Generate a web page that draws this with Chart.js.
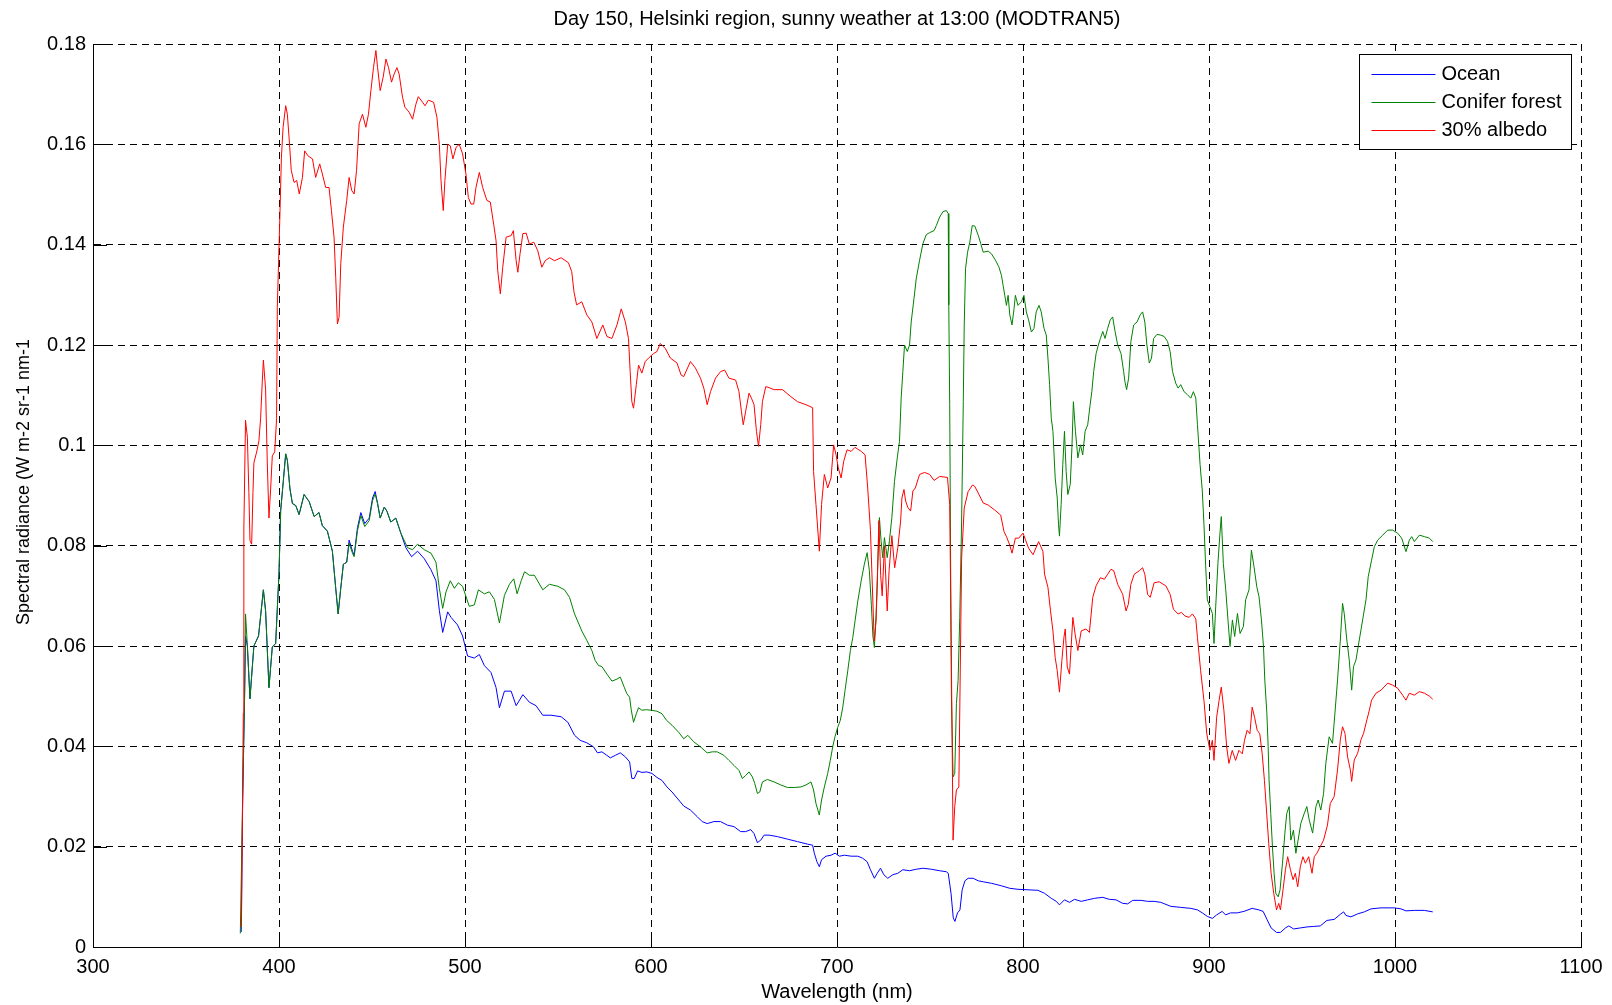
<!DOCTYPE html>
<html>
<head>
<meta charset="utf-8">
<title>Day 150, Helsinki region</title>
<script src="https://cdn.jsdelivr.net/npm/chart.js@4.4.1/dist/chart.umd.min.js"></script>
<style>
  html, body { margin: 0; padding: 0; background: #fff; }
  canvas { display: block; }
</style>
</head>
<body>
<canvas id="chart" width="1612" height="1005"></canvas>
<script>
// values: [wavelength (nm), radiance (W m-2 sr-1 nm-1)]
var oceanData = [
  [379.7,0.003],[380.5,0.03],[381.5,0.05],[382,0.062],[383,0.06],[384.4,0.0495],[386.5,0.06],[389,0.062],
  [391.6,0.0712],[392.8,0.067],[394.6,0.0517],[396.4,0.0598],[398.2,0.0605],[400,0.0745],[400.9,0.087],
  [402.3,0.0928],[403.6,0.0983],[404.5,0.097],[405.9,0.0913],[407.2,0.0884],[409,0.088],[410.8,0.0862],
  [413.5,0.0902],[416.2,0.0888],[418.9,0.0858],[421.5,0.0866],[423.3,0.084],[426,0.0829],[428.7,0.0789],
  [430.5,0.0715],[431.8,0.0664],[433.2,0.0715],[434.6,0.0763],[436.4,0.0767],[437.7,0.0811],[439.5,0.0789],
  [440.4,0.0781],[442.2,0.0836],[444,0.0866],[446.1,0.0844],[448.5,0.0855],[450.3,0.0895],[451.7,0.0908],
  [453,0.0884],[454.4,0.0855],[456.6,0.0877],[458,0.0869],[460.1,0.0847],[462.8,0.0855],[465.5,0.0825],
  [468.2,0.0796],[471.3,0.0778],[474.5,0.0789],[478.1,0.0774],[481.7,0.0752],[484.4,0.073],[486.2,0.0671],
  [488,0.0627],[490.7,0.0668],[492.5,0.0657],[496,0.0642],[498.7,0.062],[501.4,0.058],[505,0.0576],
  [507.7,0.0583],[510.4,0.0561],[514,0.0547],[516.7,0.0517],[518.5,0.0477],[521.2,0.051],[524.8,0.051],
  [527.5,0.0481],[531.1,0.0503],[534.6,0.0488],[538.2,0.0481],[541.8,0.0462],[546.3,0.0462],[551.7,0.0459],
  [555.3,0.0448],[558.9,0.0422],[561.9,0.0412],[565.5,0.0407],[569.1,0.0399],[571.2,0.0387],[573.6,0.0389],
  [576.3,0.0382],[578.1,0.0377],[580.8,0.0382],[583.5,0.0387],[586.2,0.0379],[588.5,0.0369],[589.7,0.0336],
  [591,0.0336],[592.8,0.0351],[595.1,0.0348],[597.8,0.0349],[600.5,0.0346],[603.2,0.0338],[605.9,0.0332],
  [608.6,0.0319],[611.3,0.0309],[614.9,0.0293],[617.6,0.0281],[621.2,0.0273],[624.8,0.026],[627.5,0.025],
  [630.2,0.0246],[633.8,0.025],[637.4,0.025],[641,0.0243],[644.6,0.024],[648.2,0.023],[650.9,0.023],
  [653.6,0.0234],[655.4,0.0226],[657.2,0.0208],[659,0.0213],[660.8,0.0223],[663.5,0.0223],[668,0.022],
  [673.4,0.0215],[678.8,0.021],[684.2,0.0205],[686.9,0.0203],[687.8,0.0187],[689.2,0.017],[690.5,0.016],
  [691.7,0.0174],[694.1,0.0181],[696.8,0.0183],[699,0.0187],[701.3,0.0181],[704,0.0183],[707.6,0.0181],
  [711.2,0.0181],[713.8,0.0177],[716.2,0.017],[718,0.0154],[720.1,0.0137],[721.6,0.0147],[723.4,0.0157],
  [725.2,0.0144],[727.3,0.0137],[730,0.0144],[732.7,0.0147],[735.4,0.0154],[739,0.0152],[742.6,0.0155],
  [746.2,0.0157],[750.7,0.0155],[755.2,0.0152],[758.8,0.015],[759.8,0.0147],[761.3,0.0107],[762.5,0.0058],
  [763.4,0.0051],[764.8,0.0068],[766.1,0.0074],[767.3,0.0114],[768.8,0.0132],[770.5,0.0137],[773.2,0.0137],
  [775.9,0.0132],[778.6,0.013],[783,0.0127],[788.4,0.0122],[792.9,0.0117],[797.3,0.0115],[802.7,0.0114],
  [808,0.0113],[811.6,0.0107],[815.2,0.0097],[817.9,0.0091],[819.6,0.0084],[822.3,0.0094],[825,0.0089],
  [827.7,0.0095],[831.3,0.0091],[834.8,0.0094],[838.4,0.0097],[842.9,0.0099],[846.4,0.0095],[850,0.0094],
  [853.6,0.0087],[856.3,0.0086],[859,0.0093],[863.4,0.0093],[867,0.0091],[870.5,0.0091],[874.1,0.0089],
  [879.5,0.0081],[884.8,0.0079],[890.2,0.0077],[893.8,0.0074],[896.4,0.0068],[899.1,0.0061],[901.8,0.0057],
  [904.1,0.0064],[907.1,0.0071],[908.9,0.0064],[911.6,0.0068],[915.2,0.0068],[918.8,0.0071],[923.2,0.0077],
  [926.8,0.0074],[929.1,0.0071],[931.3,0.0054],[933.4,0.0038],[936.3,0.0029],[938.4,0.0029],[941.1,0.0038],
  [942.9,0.0042],[945.5,0.0036],[949.1,0.0038],[952.7,0.004],[956.3,0.0041],[959.8,0.0042],[963.4,0.0053],
  [967.3,0.0055],[970.9,0.0066],[972.4,0.007],[973.6,0.0063],[976.3,0.006],[979.9,0.0066],[983.5,0.007],
  [987.1,0.0076],[992.5,0.0078],[999.6,0.0078],[1003.2,0.0076],[1005.9,0.0072],[1010.4,0.0073],
  [1015.8,0.0073],[1020.3,0.007]
];

var forestData = [
  [379.2,0.0027],[380.5,0.03],[381.5,0.05],[382,0.0664],[383,0.06],[384.4,0.0495],[386.5,0.06],[389,0.062],
  [391.6,0.0712],[392.8,0.067],[394.6,0.0517],[396.4,0.0598],[398.2,0.0605],[400,0.0745],[400.9,0.087],
  [402.3,0.0928],[403.6,0.0983],[404.5,0.097],[405.9,0.0913],[407.2,0.0884],[409,0.088],[410.8,0.0862],
  [413.5,0.0902],[416.2,0.0888],[418.9,0.0858],[421.5,0.0866],[423.3,0.084],[426,0.0829],[428.7,0.0789],
  [430.5,0.0715],[431.8,0.0664],[433.2,0.0715],[434.6,0.0763],[436.4,0.0767],[437.7,0.0805],[439.5,0.0785],
  [440.4,0.0778],[442.2,0.083],[444,0.086],[446.1,0.0838],[448.5,0.085],[450.3,0.089],[451.7,0.0903],
  [453,0.0884],[454.4,0.0855],[456.6,0.0877],[458,0.0869],[460.1,0.0847],[462.8,0.0855],[465.5,0.0825],
  [469.1,0.0796],[471.8,0.0792],[474.5,0.0803],[478.1,0.0792],[481.7,0.0785],[484.4,0.0767],[486.2,0.0715],
  [488,0.0675],[489.8,0.0708],[492.1,0.073],[494.3,0.0715],[496.4,0.0726],[498.7,0.0719],[502.3,0.0679],
  [505,0.0682],[507.2,0.0712],[510.4,0.0704],[513.1,0.0708],[515.8,0.0693],[518.5,0.0646],[521.2,0.0701],
  [523.9,0.0723],[526.2,0.0734],[528,0.0704],[530.2,0.073],[532,0.0748],[534.6,0.0741],[537.3,0.0741],
  [541.8,0.0712],[545.4,0.0723],[549.9,0.0719],[553.5,0.0712],[556.2,0.0697],[558.9,0.0664],[562.8,0.063],
  [565.5,0.0611],[568.2,0.0591],[570,0.0571],[571.8,0.0561],[573.6,0.0559],[576.3,0.0544],[579,0.053],
  [581.7,0.0534],[583.5,0.0538],[585.6,0.0518],[587,0.0505],[588.5,0.0498],[589.4,0.0472],[590.6,0.0448],
  [592.1,0.0465],[593.3,0.0477],[595.1,0.0472],[597.5,0.0473],[600,0.0472],[603.2,0.047],[605.9,0.0465],
  [608.3,0.0452],[611.3,0.0442],[614.9,0.0428],[617.6,0.0415],[619.8,0.0422],[623,0.0409],[626.6,0.0399],
  [630.2,0.0387],[632.9,0.0389],[635.6,0.0389],[639.2,0.0382],[641.9,0.0372],[644.6,0.0362],[647.3,0.0352],
  [649.1,0.0336],[650.9,0.0342],[652.7,0.0349],[654.5,0.0339],[655.8,0.0326],[657.2,0.0306],[658.5,0.0309],
  [659.9,0.0329],[662.6,0.0334],[666.2,0.0329],[669.8,0.0323],[673.4,0.0318],[677,0.0318],[680.6,0.0319],
  [683.3,0.0323],[686,0.0329],[687.4,0.0313],[688.7,0.0286],[690.5,0.0263],[691.7,0.0293],[693.2,0.0319],
  [695,0.0346],[696.4,0.0372],[697.7,0.0399],[698.9,0.0419],[700.4,0.0438],[701.8,0.0452],[703.1,0.0478],
  [704.3,0.0511],[705.8,0.0551],[707.2,0.0591],[708.5,0.0617],[709.7,0.065],[711.2,0.069],[713,0.073],
  [714.7,0.0763],[716.2,0.0786],[717.4,0.075],[718.5,0.068],[719.3,0.062],[720.1,0.0597],[721,0.066],
  [721.8,0.075],[722.8,0.0856],[723.7,0.081],[724.6,0.0776],[725.5,0.0816],[727,0.0776],[728.2,0.081],
  [729.5,0.0856],[730.9,0.0928],[732.4,0.0975],[733.6,0.1008],[734.5,0.1094],[735.4,0.1147],[736.3,0.12],
  [737.8,0.1187],[739,0.12],[739.9,0.1246],[741.4,0.1293],[742.6,0.1332],[744.4,0.1369],[746.2,0.1402],
  [748,0.142],[749.8,0.1424],[752.2,0.1428],[753.4,0.1438],[755.2,0.1455],[757,0.1466],[758.8,0.1468],
  [759.8,0.1462],[760.1,0.128],[760.6,0.1081],[761.5,0.0505],[762.4,0.0339],[763.3,0.0346],[764.2,0.0485],
  [765.1,0.0531],[766,0.0657],[767,0.0849],[767.9,0.1087],[768.4,0.124],[769.1,0.1352],[770.2,0.1385],
  [771.4,0.1405],[772.7,0.1438],[774.1,0.1437],[775.9,0.1419],[777.3,0.1402],[778.6,0.1385],[781.3,0.1387],
  [783,0.1382],[785.2,0.1369],[787,0.1356],[788.4,0.1339],[789.3,0.1319],[790.2,0.1299],[791.1,0.1279],
  [792,0.1299],[792.9,0.126],[794.1,0.124],[795.2,0.1273],[795.9,0.1299],[797.3,0.1279],[799.1,0.1286],
  [800.5,0.1299],[801.8,0.1266],[803,0.125],[804.5,0.1226],[805.9,0.1233],[807.1,0.1266],[808.6,0.1279],
  [809.8,0.1266],[811.3,0.1233],[812.5,0.122],[813.4,0.1174],[814.3,0.1121],[815.2,0.1054],[816.1,0.1028],
  [817.3,0.0935],[818.4,0.0895],[819.1,0.0842],[819.6,0.0819],[820.5,0.0882],[821.4,0.0962],[822.3,0.1028],
  [823.2,0.0948],[824.1,0.0902],[825.4,0.0922],[826.3,0.0995],[827.1,0.1087],[828.2,0.1028],[829.5,0.0975],
  [830.9,0.1001],[832.1,0.0981],[833.4,0.1028],[834.8,0.1041],[836.1,0.1081],[837,0.1107],[838,0.1147],
  [839.3,0.1183],[840.5,0.12],[841.6,0.1213],[842.9,0.1227],[844.1,0.1213],[845.5,0.1233],[846.9,0.125],
  [848.2,0.1256],[849.5,0.1227],[850.9,0.12],[852.7,0.1183],[854.1,0.1147],[854.8,0.1127],[855.7,0.1111],
  [856.8,0.1134],[858,0.1207],[859.5,0.124],[861.3,0.1246],[863,0.126],[864.3,0.1266],[865.5,0.1246],
  [866.6,0.12],[867.9,0.1164],[869.1,0.1174],[870.2,0.1213],[872,0.1221],[873.8,0.122],[875.9,0.1217],
  [877.7,0.1207],[879.1,0.1187],[880.4,0.1147],[882.1,0.1124],[883.4,0.1114],[884.8,0.1121],[886.6,0.1107],
  [888.4,0.1101],[890.2,0.1094],[891.6,0.1107],[892.9,0.1094],[893.8,0.1041],[895.2,0.0962],[896.4,0.0909],
  [897.3,0.0842],[898.2,0.076],[899.1,0.0692],[900.5,0.0678],[901.8,0.0665],[902.7,0.0605],[903.6,0.0678],
  [904.8,0.0765],[905.9,0.0825],[906.6,0.0858],[907.7,0.0765],[909,0.0712],[910.2,0.0652],[911.3,0.0599],
  [912.6,0.0652],[913.8,0.0619],[915.3,0.0665],[916.7,0.0625],[918.5,0.0639],[919.7,0.0692],[921.5,0.0712],
  [922.8,0.0791],[924.2,0.0758],[925.7,0.0718],[926.9,0.0698],[928.2,0.0652],[929.3,0.0599],[930,0.0532],
  [931.1,0.0466],[931.8,0.04],[932.3,0.0333],[933.2,0.0266],[934.1,0.02],[935,0.0147],[935.9,0.0107],
  [937.2,0.01],[938.2,0.0114],[939.5,0.0167],[940.8,0.0227],[941.8,0.0266],[943.1,0.028],[944,0.0213],
  [945.4,0.0233],[946.7,0.0187],[947.9,0.0213],[949.4,0.0247],[951.2,0.0266],[952.6,0.028],[953.9,0.0253],
  [955.7,0.0227],[957.5,0.028],[958.7,0.0293],[960.1,0.0273],[961.6,0.0306],[962.8,0.0366],[964.6,0.0419],
  [966.4,0.0406],[967.7,0.0466],[969.1,0.0532],[970.6,0.0612],[971.8,0.0685],[972.7,0.0665],[974.1,0.0612],
  [975.4,0.0572],[976.7,0.0512],[977.7,0.0559],[979,0.0572],[980.8,0.0612],[982.6,0.0652],[984.4,0.0692],
  [985.6,0.0738],[987.4,0.0771],[988.9,0.0798],[990.7,0.0811],[993.4,0.0821],[996.1,0.0831],[998.7,0.0831],
  [1001.4,0.0825],[1003.6,0.0815],[1005.9,0.0788],[1007.7,0.0811],[1009,0.0818],[1010.4,0.0808],
  [1013.1,0.0821],[1015.8,0.0818],[1018.5,0.0815],[1020.3,0.0808]
];

var albedoData = [
  [379.8,0.004],[380.8,0.0466],[381.1,0.0833],[382,0.105],[383,0.1016],[383.8,0.0906],[384.4,0.081],
  [385.3,0.0803],[386,0.0906],[386.5,0.0965],[388,0.0987],[389.2,0.1009],[390.1,0.1053],[391,0.1126],
  [391.6,0.117],[392.8,0.1112],[393.7,0.0965],[394.6,0.0855],[395.5,0.0913],[396.4,0.0979],[397.7,0.0987],
  [398.7,0.1053],[399.1,0.1275],[400.5,0.1461],[401.3,0.1574],[402.2,0.1634],[403.6,0.1677],[404.5,0.166],
  [405.4,0.1614],[406.6,0.1548],[408.1,0.1524],[409.5,0.1528],[410.9,0.1501],[412.6,0.1534],[413.8,0.1587],
  [415.6,0.1577],[418,0.1571],[419.7,0.1534],[421.9,0.1561],[423.3,0.1541],[425.1,0.1514],[426.9,0.1514],
  [428.2,0.1468],[429.6,0.1415],[430.5,0.1335],[431.4,0.1242],[432.3,0.1255],[433.2,0.1362],[434.6,0.1435],
  [436.4,0.1488],[437.7,0.1534],[439.1,0.1508],[440.4,0.1501],[441.7,0.1548],[443.1,0.1641],[444.9,0.166],
  [446.7,0.1634],[448.1,0.166],[449.4,0.1707],[450.8,0.1753],[452.1,0.1787],[453,0.1753],[454.4,0.1707],
  [456,0.1734],[457.5,0.177],[458.9,0.1753],[460.5,0.1724],[461.9,0.174],[463.4,0.1753],[464.6,0.174],
  [466.4,0.1694],[467.7,0.1674],[470,0.1664],[471.8,0.165],[473.6,0.168],[474.9,0.1695],[477.2,0.1684],
  [478.5,0.1677],[480.3,0.1688],[483.1,0.1684],[484.9,0.1654],[486.2,0.16],[487.1,0.1528],[488.3,0.1468],
  [489.2,0.1528],[490.7,0.16],[492.1,0.1597],[493.5,0.1571],[495.2,0.1594],[496.9,0.16],[498.7,0.1581],
  [500.5,0.1541],[501.8,0.1494],[503.2,0.1481],[504.7,0.1481],[505.9,0.1514],[507.7,0.1544],[509.5,0.1514],
  [511.8,0.1488],[513.6,0.1485],[515.4,0.1441],[516.7,0.1408],[517.6,0.1348],[519,0.1302],[520.3,0.1355],
  [522.1,0.1415],[524.8,0.1418],[526,0.1428],[527.5,0.1368],[528.4,0.1345],[529.6,0.1382],[531.1,0.1422],
  [532.9,0.1423],[534.6,0.1401],[537,0.1405],[539.1,0.1388],[541.3,0.1355],[543.1,0.1368],[545.4,0.1374],
  [548.1,0.1368],[551.7,0.1374],[555.6,0.1364],[557.4,0.1346],[558.6,0.1306],[560,0.128],[562.8,0.1286],
  [565.5,0.126],[568.2,0.1246],[570.9,0.1213],[574.1,0.124],[576.3,0.1217],[579,0.1213],[581.7,0.124],
  [584,0.1272],[586.2,0.1246],[587.9,0.1213],[588.8,0.1147],[589.7,0.1087],[590.6,0.1074],[592.1,0.1121],
  [593.3,0.116],[595.1,0.1144],[596.9,0.1167],[598.7,0.1174],[601.4,0.1183],[603.2,0.1187],[605,0.1203],
  [607.7,0.1193],[610.4,0.1174],[614,0.1164],[616.2,0.114],[617.6,0.1137],[621.2,0.1167],[623.9,0.1154],
  [626.6,0.1134],[628.4,0.1114],[630.2,0.1081],[632,0.1107],[634.7,0.1134],[637.4,0.1147],[639.6,0.115],
  [641.9,0.1134],[645.5,0.113],[647.3,0.1107],[648.6,0.1068],[649.6,0.1041],[650.9,0.1068],[652.7,0.1104],
  [654,0.1094],[655.4,0.1081],[656.7,0.1028],[657.8,0.0998],[659,0.1041],[659.9,0.1087],[661.7,0.1117],
  [663.5,0.1115],[666.2,0.1111],[670.7,0.1111],[675.2,0.1097],[678.8,0.1087],[683.3,0.1081],[686.9,0.1075],
  [687.4,0.0948],[688.7,0.0882],[690.5,0.0789],[691.7,0.0882],[693.2,0.0942],[695,0.0915],[696.8,0.0935],
  [698.2,0.1001],[699.5,0.0981],[700.7,0.0955],[702.2,0.0935],[703.6,0.0968],[705.4,0.0991],[707.6,0.0988],
  [709.7,0.0996],[713,0.0988],[715.1,0.0981],[716.5,0.0915],[718,0.083],[719,0.072],[720,0.061],[721,0.065],
  [721.6,0.0716],[722.5,0.085],[723.5,0.074],[724.3,0.07],[725.5,0.08],[727,0.067],[728,0.075],[729.5,0.082],
  [731,0.0756],[732.7,0.0796],[734.2,0.0849],[734.9,0.0895],[736,0.0912],[736.9,0.0889],[738.1,0.0876],
  [739.6,0.0869],[740.8,0.0909],[742.1,0.0915],[744.4,0.0942],[747.1,0.0946],[749.8,0.0942],[752.2,0.093],
  [755.2,0.0938],[759.4,0.0936],[760.6,0.0882],[761.5,0.057],[762.4,0.0213],[763.3,0.028],[764.2,0.0313],
  [765.5,0.0319],[767,0.0775],[768.4,0.0875],[770.5,0.0908],[772.9,0.0921],[774.1,0.0918],[775.9,0.0905],
  [778.6,0.0885],[781.3,0.0881],[784.8,0.0871],[788,0.0861],[789.8,0.0828],[791.1,0.0818],[792.9,0.0801],
  [794.1,0.0785],[795.9,0.0815],[797.7,0.0815],[800,0.0825],[801.3,0.0812],[803,0.0795],[805.4,0.0782],
  [808.4,0.0808],[810.7,0.0789],[811.6,0.0743],[813.4,0.0717],[814.8,0.067],[816.1,0.063],[817.3,0.0577],
  [818.4,0.0551],[819.6,0.0508],[820.9,0.0571],[822,0.0617],[822.7,0.0634],[823.8,0.0558],[825,0.0544],
  [826.8,0.0657],[828,0.0624],[829.5,0.0591],[831.3,0.063],[833.9,0.0634],[835.7,0.0627],[837.5,0.0697],
  [839.3,0.072],[841.6,0.0736],[843.8,0.0733],[845.5,0.0743],[847.3,0.0753],[848.8,0.075],[850.9,0.0723],
  [853.6,0.0703],[855.4,0.067],[856.6,0.0683],[858,0.0723],[859.8,0.0743],[862.5,0.075],[864.3,0.0756],
  [865.5,0.0743],[867,0.0703],[868.4,0.0697],[870.5,0.0726],[873.2,0.0728],[876.8,0.072],[879.1,0.0703],
  [880.9,0.0673],[883.4,0.0664],[885.2,0.0667],[887,0.066],[889.3,0.0657],[891.1,0.0664],[892.9,0.0654],
  [893.8,0.0617],[895.5,0.0551],[897.3,0.0491],[898.8,0.0425],[900.5,0.0392],[901.8,0.0412],[902.7,0.0372],
  [904.1,0.0458],[905.4,0.0491],[906.6,0.0518],[908,0.0472],[909.5,0.0399],[910.7,0.0366],[912.5,0.0392],
  [914.3,0.0372],[916.1,0.0392],[917.9,0.0385],[919.1,0.0412],[920.5,0.0432],[922,0.0425],[923.2,0.0478],
  [924.5,0.0458],[925.9,0.0432],[927.3,0.0425],[928.6,0.0385],[929.8,0.0332],[930.9,0.0273],[932.1,0.0207],
  [933.4,0.0147],[934.8,0.0107],[936.3,0.0074],[937.5,0.0087],[938.4,0.0074],[939.8,0.0114],[941.1,0.0154],
  [942.3,0.018],[943.8,0.0154],[945.2,0.0134],[946.4,0.0147],[947.7,0.012],[949.1,0.016],[950.5,0.018],
  [951.8,0.0167],[953.6,0.018],[955.4,0.0147],[956.6,0.018],[958,0.0187],[959.8,0.02],[961.6,0.0213],
  [963.7,0.0243],[965.2,0.0286],[967.3,0.03],[969.1,0.0353],[970.6,0.0413],[971.8,0.0439],[973.1,0.0426],
  [974.5,0.0379],[976,0.0353],[976.7,0.033],[978.1,0.0373],[979.9,0.0386],[981.7,0.0413],[983.1,0.0426],
  [984.9,0.0453],[986.2,0.0472],[987.4,0.0492],[989.8,0.0506],[992.5,0.0512],[996.1,0.0526],[998.7,0.0522],
  [1001.4,0.0516],[1004.1,0.0502],[1005.9,0.0492],[1007.7,0.0506],[1010.4,0.0502],[1013.1,0.0509],
  [1015.8,0.0506],[1018.5,0.05],[1020.3,0.0494]
];

var seriesNames = ['Ocean', 'Conifer forest', '30% albedo'];
var seriesColors = ['#0000ff', '#008000', '#ff0000'];
var xTickValues = [300, 400, 500, 600, 700, 800, 900, 1000, 1100];
var yTickValues = [0, 0.02, 0.04, 0.06, 0.08, 0.1, 0.12, 0.14, 0.16, 0.18];

var titleText = 'Day 150, Helsinki region, sunny weather at 13:00 (MODTRAN5)';
var yTitleText = 'Spectral radiance (W m-2 sr-1 nm-1';

var FONT = "'Liberation Sans', Arial, Helvetica, sans-serif";
Chart.defaults.font.family = FONT;
Chart.defaults.font.size = 20;
Chart.defaults.color = '#000';

function toPoints(pairs) {
  return pairs.map(function (p) { return { x: p[0], y: p[1] }; });
}

// MATLAB style ticks pointing into the plot
var innerTicks = {
  id: 'innerTicks',
  afterDatasetsDraw: function (chart) {
    var ctx = chart.ctx, area = chart.chartArea;
    var xs = chart.scales.x, ys = chart.scales.y;
    ctx.save();
    ctx.strokeStyle = '#000';
    ctx.lineWidth = 1;
    ctx.beginPath();
    xTickValues.forEach(function (v) {
      var px = Math.round(xs.getPixelForValue(v)) + 0.5;
      ctx.moveTo(px, area.bottom);
      ctx.lineTo(px, area.bottom - 14);
    });
    yTickValues.forEach(function (v) {
      var py = Math.round(ys.getPixelForValue(v)) + 0.5;
      ctx.moveTo(area.left, py);
      ctx.lineTo(area.left + 14, py);
    });
    ctx.stroke();
    ctx.restore();
  }
};

// title over the plot box and the rotated y label
var titles = {
  id: 'titles',
  afterDraw: function (chart) {
    var ctx = chart.ctx, area = chart.chartArea;
    ctx.save();
    ctx.fillStyle = '#000';
    ctx.textAlign = 'center';
    ctx.textBaseline = 'middle';
    ctx.font = '20px ' + FONT;
    ctx.fillText(titleText, (area.left + area.right) / 2, 19);
    ctx.translate(24, 482);
    ctx.rotate(-Math.PI / 2);
    ctx.font = '18px ' + FONT;
    ctx.fillText(yTitleText, 0, 0);
    ctx.restore();
  }
};

// boxed legend in the upper right corner
var boxLegend = {
  id: 'boxLegend',
  afterDraw: function (chart) {
    var ctx = chart.ctx;
    var left = 1359.5, top = 54.5, width = 212, height = 95;
    ctx.save();
    ctx.fillStyle = '#fff';
    ctx.fillRect(left, top, width, height);
    ctx.strokeStyle = '#000';
    ctx.lineWidth = 1;
    ctx.strokeRect(left, top, width, height);
    ctx.font = '20px ' + FONT;
    ctx.textBaseline = 'middle';
    ctx.textAlign = 'left';
    chart.data.datasets.forEach(function (ds, i) {
      var y = Math.round(top + 19 + i * 28.4) + 0.5;
      ctx.strokeStyle = ds.borderColor;
      ctx.beginPath();
      ctx.moveTo(left + 12, y);
      ctx.lineTo(left + 76, y);
      ctx.stroke();
      ctx.fillStyle = '#000';
      ctx.fillText(ds.label, left + 82, y);
    });
    ctx.restore();
  }
};

var datasets = [oceanData, forestData, albedoData].map(function (d, i) {
  return {
    label: seriesNames[i],
    data: toPoints(d),
    borderColor: seriesColors[i],
    backgroundColor: seriesColors[i],
    borderWidth: 1,
    pointRadius: 0,
    tension: 0,
    fill: false,
    order: 3 - i
  };
});

new Chart(document.getElementById('chart'), {
  type: 'line',
  data: { datasets: datasets },
  options: {
    responsive: false,
    devicePixelRatio: 1,
    animation: false,
    parsing: false,
    layout: { padding: { left: 0, right: 31, top: 44, bottom: 0 } },
    plugins: {
      legend: { display: false },
      tooltip: { enabled: false },
      title: { display: false }
    },
    scales: {
      x: {
        type: 'linear',
        min: 300,
        max: 1100,
        afterBuildTicks: function (scale) {
          scale.ticks = xTickValues.map(function (v) { return { value: v }; });
        },
        afterFit: function (scale) { scale.height = 58; },
        ticks: {
          color: '#000',
          padding: 8,
          maxRotation: 0,
          font: { size: 20 },
          callback: function (v) { return String(v); }
        },
        grid: { color: '#000', lineWidth: 1, drawTicks: false },
        border: { display: true, color: '#000', width: 1, dash: [7, 5] },
        title: { display: true, text: 'Wavelength (nm)', color: '#000', font: { size: 20 }, padding: { top: 0, bottom: 1 } }
      },
      y: {
        type: 'linear',
        min: 0,
        max: 0.18,
        afterBuildTicks: function (scale) {
          scale.ticks = yTickValues.map(function (v) { return { value: v }; });
        },
        afterFit: function (scale) { scale.width = 93; },
        ticks: {
          color: '#000',
          padding: 7,
          font: { size: 20 },
          callback: function (v) { return String(+v.toFixed(2)); }
        },
        grid: { color: '#000', lineWidth: 1, drawTicks: false },
        border: { display: true, color: '#000', width: 1, dash: [7, 5] },
        title: { display: false }
      }
    }
  },
  plugins: [innerTicks, titles, boxLegend]
});
</script>
</body>
</html>
